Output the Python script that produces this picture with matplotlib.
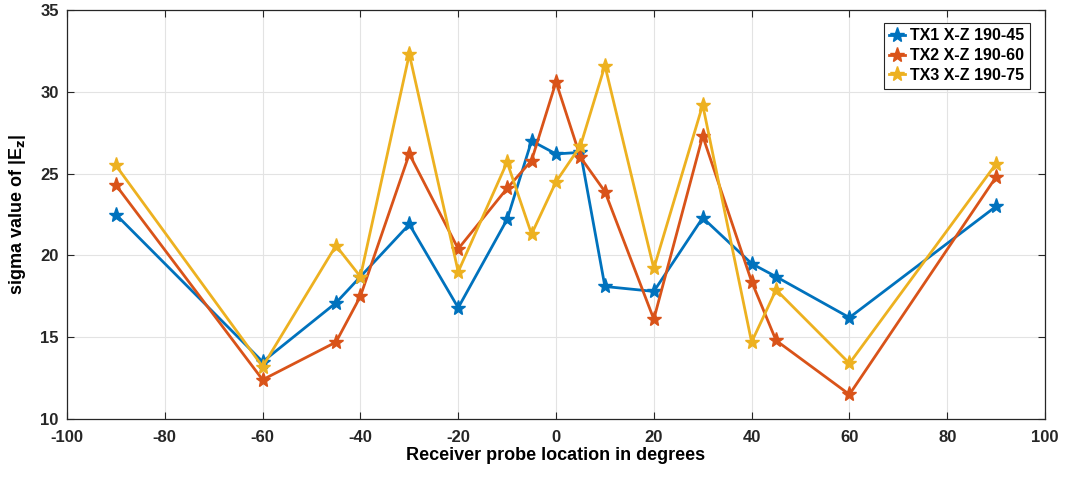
import matplotlib
matplotlib.use("Agg")
import matplotlib.pyplot as plt

angles = [-90, -60, -45, -40, -30, -20, -10, -5, 0, 5, 10, 20, 30, 40, 45, 60, 90]
tx1 = [22.5, 13.5, 17.1, 18.7, 21.9, 16.8, 22.2, 27.0, 26.2, 26.3, 18.1, 17.8, 22.3, 19.5, 18.7, 16.2, 23.0]
tx2 = [24.3, 12.4, 14.7, 17.5, 26.2, 20.4, 24.1, 25.8, 30.6, 26.0, 23.9, 16.1, 27.3, 18.4, 14.8, 11.5, 24.8]
tx3 = [25.5, 13.2, 20.6, 18.7, 32.3, 19.0, 25.7, 21.3, 24.5, 26.7, 31.6, 19.2, 29.2, 14.7, 17.9, 13.4, 25.6]
labels = ["TX1 X-Z 190-45", "TX2 X-Z 190-60", "TX3 X-Z 190-75"]
colors = ["#0072BD", "#D95319", "#EDB120"]

plt.rcParams['font.family'] = ['Liberation Sans', 'DejaVu Sans']
plt.rcParams['font.weight'] = 'bold'
plt.rcParams['axes.unicode_minus'] = False

fig = plt.figure(figsize=(10.67, 4.78), dpi=100)
ax = fig.add_axes([0.0628, 0.1234, 0.9166, 0.8557])

for ys, lab, c in zip([tx1, tx2, tx3], labels, colors):
    ax.plot(angles, ys, color=c, lw=2, marker='*', markersize=11, label=lab)

ax.set_xlim(-100, 100)
ax.set_ylim(10, 35)
ax.set_xticks(range(-100, 101, 20))
ax.set_yticks(range(10, 36, 5))
ax.grid(True, color='#e3e3e3', lw=0.8)
ax.set_axisbelow(True)
ax.tick_params(direction='in', length=5, width=0.8, labelsize=12, top=True, right=True, colors='#262626')
ax.tick_params(axis='x', pad=8)
ax.tick_params(axis='y', pad=6)
for lbl in ax.get_xticklabels() + ax.get_yticklabels():
    lbl.set_fontweight('bold')
for s in ax.spines.values():
    s.set_color('#262626')
    s.set_linewidth(0.9)
ax.set_xlabel("Receiver probe location in degrees", fontsize=13, fontweight='bold', labelpad=1)
ax.set_ylabel(r"sigma value of |E$_\mathbf{z}$|", fontsize=13, fontweight='bold', labelpad=9)
leg = ax.legend(loc='upper right', fontsize=11.5, fancybox=False, edgecolor='#262626', framealpha=1,
                handlelength=1.0, handletextpad=0.3, borderpad=0.35, labelspacing=0.3,
                bbox_to_anchor=(0.9925, 0.988))
leg.get_frame().set_linewidth(0.8)
for t in leg.get_texts():
    t.set_fontweight('bold')
fig.savefig("out.png", dpi=100)
